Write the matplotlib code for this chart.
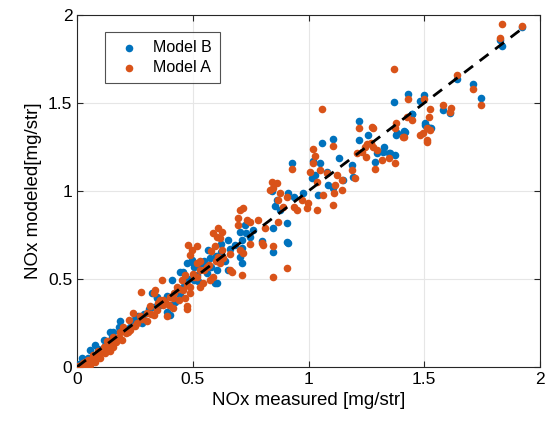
# NOx measured vs modeled scatter (Model A / Model B)

import matplotlib.pyplot as plt

plt.rcParams['font.family'] = ['Liberation Sans', 'DejaVu Sans']

# Model B (blue)
B_MEAS = [1.924, 1.827, 1.837, 1.64, 1.712, 1.747, 1.431, 1.369, 1.483, 1.50, 1.61, 1.58, 1.446,
          1.503, 1.529, 1.378, 1.503, 1.51, 1.525, 1.412, 1.449,
          1.218, 1.22, 1.294, 1.32, 1.349, 1.375, 1.287, 1.412, 1.057, 1.107, 0.927, 1.133, 1.259,
          1.381, 1.417, 1.324, 1.353,
          1.021, 1.05, 1.014, 1.028, 1.078, 1.086, 1.107, 1.042, 1.15, 1.187, 1.194,
          0.841, 0.862, 0.913, 0.935, 0.978, 0.877, 0.855, 0.906, 0.913, 0.848,
          0.726, 0.747, 0.798, 0.704, 0.711, 0.711, 0.704, 0.711, 0.906, 0.848, 0.654, 0.603,
          0.567, 0.575, 0.495, 0.503, 0.546, 0.603, 0.596, 0.56,
          0.409, 0.459, 0.503, 0.459, 0.445, 0.524, 0.344, 0.402, 0.423,
          0.186, 0.14, 0.02, 0.056, 0.078, 0.114, 0.157, 0.179,
          0.322, 0.344, 0.402, 0.387, 0.445, 0.474, 0.495, 0.524, 0.229, 0.265, 0.186,
          0.01, 0.03, 0.045, 0.09, 0.12, 0.15, 0.25, 0.29, 0.31, 0.28,
          0.62, 0.65, 0.68, 0.62, 0.64,
          0.20, 0.24, 0.27, 0.33, 0.36, 0.39, 0.43, 0.48, 0.52, 0.55, 0.58, 0.60, 0.66, 0.73, 0.76]
B_MOD = [1.93, 1.858, 1.824, 1.636, 1.607, 1.53, 1.553, 1.506, 1.513, 1.545, 1.445, 1.46, 1.437,
         1.373, 1.36, 1.32, 1.384, 1.366, 1.356, 1.34, 1.435,
         1.40, 1.29, 1.214, 1.223, 1.214, 1.205, 1.167, 1.33, 1.27, 1.293, 1.157, 1.186, 1.32,
         1.327, 1.337, 1.25, 1.217,
         1.172, 1.157, 1.072, 1.09, 1.11, 1.034, 1.015, 0.977, 1.063, 1.148, 1.081,
         0.998, 0.949, 0.986, 0.968, 0.986, 0.892, 0.915, 0.816, 0.703, 0.788,
         0.807, 0.74, 0.713, 0.769, 0.722, 0.674, 0.627, 0.589, 0.708, 0.655, 0.551, 0.475,
         0.665, 0.617, 0.608, 0.57, 0.589, 0.551, 0.475, 0.532,
         0.494, 0.541, 0.494, 0.456, 0.409, 0.485, 0.399, 0.352, 0.371,
         0.261, 0.195, 0.049, 0.097, 0.125, 0.153, 0.2, 0.229,
         0.419, 0.39, 0.295, 0.314, 0.541, 0.589, 0.598, 0.58, 0.229, 0.286, 0.21,
         0.015, 0.04, 0.05, 0.1, 0.12, 0.17, 0.27, 0.3, 0.33, 0.25,
         0.7, 0.72, 0.69, 0.65, 0.6,
         0.22, 0.24, 0.26, 0.34, 0.35, 0.40, 0.43, 0.50, 0.52, 0.60, 0.57, 0.63, 0.67, 0.76, 0.78]

# Model A (orange)
A_MEAS = [1.837, 1.924, 1.827, 1.369, 1.64, 1.712, 1.747, 1.431, 1.50, 1.58, 1.614, 1.611, 1.525,
          1.446, 1.38, 1.41, 1.277, 1.51, 1.482, 1.496, 1.51, 1.51, 1.521, 1.525, 1.424, 1.374,
          1.058, 1.218, 1.272, 1.251, 1.27, 1.28, 1.245, 1.23, 1.21, 1.248, 1.294, 1.316, 1.286,
          1.349, 1.374, 1.412, 1.107, 1.018, 0.927, 1.028, 1.018, 1.006, 1.05, 1.035, 1.078,
          1.122, 1.143, 1.114, 1.187, 1.20, 1.064, 1.111, 1.143, 1.107,
          0.841, 0.862, 0.848, 0.834, 0.877, 0.906, 0.87, 0.891, 0.935, 0.949, 0.992, 0.999,
          1.035, 0.971,
          0.718, 0.733, 0.747, 0.783, 0.812, 0.87, 0.848, 0.798, 0.747,
          0.704, 0.697, 0.697, 0.704, 0.718, 0.848, 0.908, 0.711, 0.661, 0.668, 0.805,
          0.61, 0.625, 0.618, 0.589, 0.603, 0.596, 0.625, 0.61, 0.618,
          0.481, 0.495, 0.517, 0.488,
          0.517, 0.531, 0.56, 0.575, 0.546, 0.517, 0.589, 0.531,
          0.452, 0.474, 0.459, 0.488, 0.438, 0.467, 0.402, 0.366,
          0.33, 0.373, 0.395, 0.474, 0.416, 0.474,
          0.276, 0.243, 0.222, 0.2, 0.186, 0.157, 0.128, 0.114, 0.092, 0.07, 0.049, 0.027, 0.006,
          0.193, 0.157, 0.143, 0.121, 0.099, 0.078, 0.056,
          0.337, 0.359, 0.315, 0.344, 0.373, 0.387, 0.416, 0.33, 0.301, 0.258, 0.431, 0.467,
          0.503, 0.488,
          0.02, 0.035, 0.04, 0.01, 0.065, 0.085, 0.10, 0.13, 0.17, 0.21, 0.23, 0.28, 0.30,
          0.15, 0.18, 0.22, 0.25, 0.27, 0.32, 0.35, 0.38, 0.42, 0.44, 0.50, 0.53, 0.55, 0.57,
          0.60, 0.63, 0.66, 0.58]
A_MOD = [1.947, 1.94, 1.87, 1.695, 1.657, 1.58, 1.49, 1.52, 1.52, 1.49, 1.47, 1.45, 1.466,
         1.403, 1.385, 1.308, 1.36, 1.36, 1.32, 1.327, 1.29, 1.28, 1.422, 1.347, 1.422, 1.356,
         1.466, 1.358, 1.366, 1.267, 1.27, 1.25, 1.25, 1.223, 1.214, 1.195, 1.233, 1.176, 1.123,
         1.186, 1.157, 1.308, 1.256, 1.236, 1.123, 1.199, 1.157, 1.11, 1.12, 1.053, 1.10,
         1.09, 1.063, 1.034, 1.12, 1.072, 0.977, 0.986, 1.006, 0.92,
         1.053, 1.043, 1.015, 1.006, 0.986, 0.968, 0.949, 0.911, 0.911, 0.892, 0.902, 0.93,
         0.892, 0.949,
         0.902, 0.835, 0.826, 0.835, 0.788, 0.826, 0.688, 0.703, 0.699,
         0.892, 0.845, 0.807, 0.665, 0.646, 0.513, 0.564, 0.523, 0.551, 0.541, 0.693,
         0.788, 0.769, 0.731, 0.759, 0.74, 0.684, 0.665, 0.627, 0.589,
         0.693, 0.665, 0.684, 0.636,
         0.589, 0.551, 0.57, 0.494, 0.475, 0.513, 0.513, 0.456,
         0.494, 0.466, 0.437, 0.419, 0.381, 0.39, 0.399, 0.494,
         0.419, 0.381, 0.352, 0.343, 0.39, 0.331,
         0.424, 0.305, 0.267, 0.229, 0.2, 0.172, 0.144, 0.115, 0.087, 0.068, 0.04, 0.021, 0.002,
         0.153, 0.115, 0.087, 0.077, 0.049, 0.03, 0.011,
         0.437, 0.381, 0.343, 0.324, 0.352, 0.286, 0.333, 0.295, 0.305, 0.248, 0.456, 0.522,
         0.513, 0.456,
         0.01, 0.025, 0.015, 0.005, 0.045, 0.06, 0.08, 0.11, 0.14, 0.19, 0.21, 0.27, 0.26,
         0.13, 0.17, 0.20, 0.23, 0.29, 0.30, 0.36, 0.37, 0.42, 0.44, 0.53, 0.60, 0.55, 0.58,
         0.60, 0.62, 0.64, 0.66]

LINE_X = [0, 1.92]

fig = plt.figure(figsize=(5.51, 4.30), dpi=100)
ax = fig.add_axes([0.14, 0.147, 0.84, 0.818])

ax.scatter(B_MEAS, B_MOD, s=30, color='#0072BD', label='Model B', zorder=3, linewidths=0)
ax.scatter(A_MEAS, A_MOD, s=30, color='#D95319', label='Model A', zorder=3, linewidths=0)
ax.plot(LINE_X, LINE_X, 'k--', lw=2, zorder=4, dashes=(4, 3))

ax.set_xlim(0, 2)
ax.set_ylim(0, 2)
ax.set_xticks([0, 0.5, 1, 1.5, 2])
ax.set_yticks([0, 0.5, 1, 1.5, 2])
ax.set_xticklabels(['0', '0.5', '1', '1.5', '2'])
ax.set_yticklabels(['0', '0.5', '1', '1.5', '2'])
ax.tick_params(direction='in', top=True, right=True, labelsize=12.5, length=4, color='#262626')
ax.grid(True, color='#e6e6e6', lw=0.8, zorder=0)
ax.set_axisbelow(True)
for sp in ax.spines.values():
    sp.set_color('#262626')
    sp.set_linewidth(0.8)

ax.set_xlabel('NOx measured [mg/str]', fontsize=13.5)
ax.set_ylabel('NOx modeled[mg/str]', fontsize=13.5)

leg = ax.legend(loc='upper left', bbox_to_anchor=(0.06, 0.952), borderaxespad=0,
                fontsize=11.5, frameon=True, fancybox=False, edgecolor='#262626',
                handletextpad=0.5, borderpad=0.5, markerscale=1.0, labelspacing=0.3)
leg.get_frame().set_linewidth(0.8)

fig.savefig('out.png', dpi=100)
